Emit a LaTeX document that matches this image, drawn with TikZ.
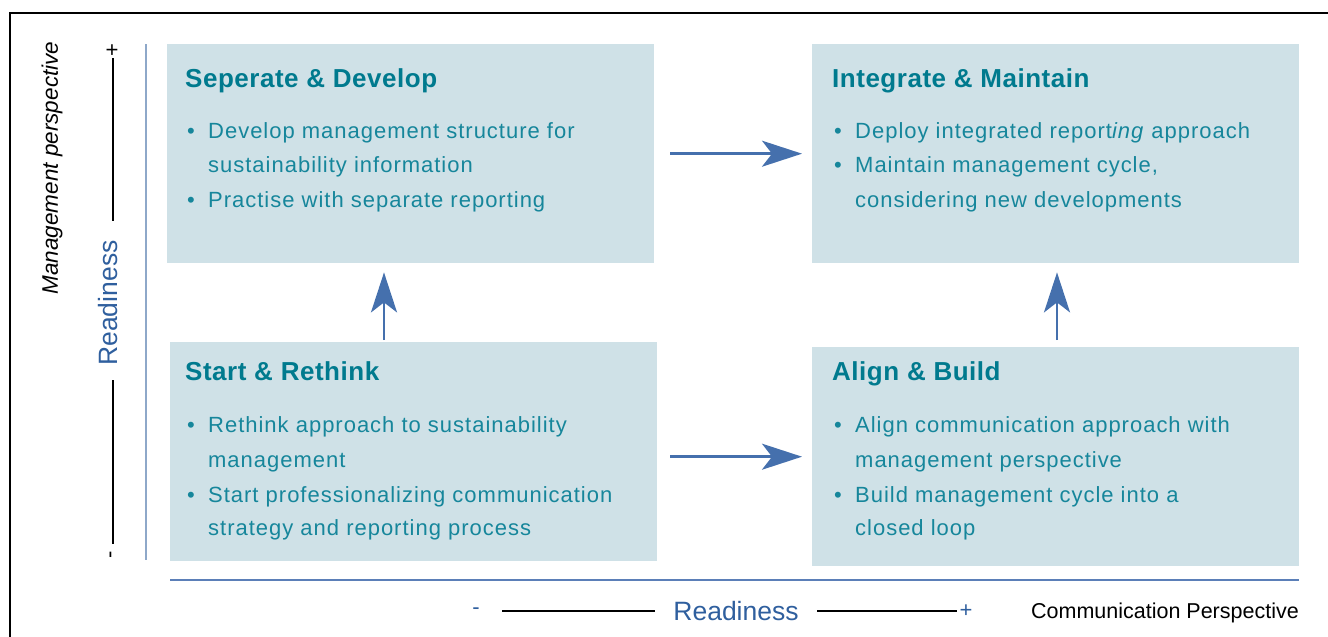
\documentclass[tikz,border=0pt]{standalone}
\usepackage{fontspec}
\setmainfont{Liberation Sans}
\newfontfamily\bodyfont[LetterSpace=4.5]{Liberation Sans}
\newfontfamily\titlefont[LetterSpace=2]{Liberation Sans}
\usetikzlibrary{arrows.meta}
\definecolor{boxfill}{HTML}{CFE1E7}
\definecolor{tealtxt}{HTML}{16869B}
\definecolor{titlecol}{HTML}{007A8E}
\definecolor{arrowblue}{HTML}{4570AD}
\definecolor{axisblue}{HTML}{2F5F9E}
\definecolor{axisline}{HTML}{8EA8C9}
\definecolor{hlinecol}{HTML}{5B7FB8}
\newcommand{\bul}{\makebox[21pt][l]{\textbullet}}
\begin{document}
\begin{tikzpicture}[x=1pt,y=-1pt,
  box/.style={fill=boxfill, draw=none, minimum width=487pt, minimum height=219pt, anchor=north west, inner sep=0pt},
  ttl/.style={anchor=base west, inner sep=0pt, font=\titlefont\fontsize{26}{26}\selectfont\bfseries, text=titlecol},
  ln/.style={anchor=base west, inner sep=0pt, font=\bodyfont\fontsize{22}{22}\selectfont, text=tealtxt},
  arr/.style={draw=arrowblue, line width=2.5pt, -{Stealth[length=40pt,width=26pt,inset=10pt]}},
  axtxt/.style={inner sep=0pt, text=axisblue, font=\fontsize{26.5}{26.5}\selectfont},
  axpm/.style={inner sep=0pt, text=axisblue, font=\fontsize{22}{22}\selectfont},
  vpm/.style={inner sep=0pt, text=black, font=\fontsize{22}{22}\selectfont, rotate=90},
  blk/.style={draw=black, line width=1.2pt}
]
\useasboundingbox (0,0) rectangle (1328,637);
% frame
\draw[line width=2pt] (10,637) -- (10,13) -- (1328,13);

% boxes
\node[box] (sd) at (167,44) {};
\node[box] (im) at (812,44) {};
\node[box] (sr) at (170,342) {};
\node[box] (ab) at (812,347) {};

% Seperate & Develop
\node[ttl] (sdt) at (185,87) {Seperate \& Develop};
\node[ln] (sd1) at (187,138) {\bul Develop management structure for};
\node[ln] (sd2) at (208,172) {sustainability information};
\node[ln] (sd3) at (187,207) {\bul Practise with separate reporting};

% Integrate & Maintain
\node[ttl] (imt) at (832,87) {Integrate \& Maintain};
\node[ln] (im1) at (834,138) {\bul Deploy integrated report\textit{ing} approach};
\node[ln] (im2) at (834,172) {\bul Maintain management cycle,};
\node[ln] (im3) at (855,207) {considering new developments};

% Start & Rethink
\node[ttl] (srt) at (185,380) {Start \& Rethink};
\node[ln] (sr1) at (187,432) {\bul Rethink approach to sustainability};
\node[ln] (sr2) at (208,467) {management};
\node[ln] (sr3) at (187,502) {\bul Start professionalizing communication};
\node[ln] (sr4) at (208,535) {strategy and reporting process};

% Align & Build
\node[ttl] (abt) at (832,380) {Align \& Build};
\node[ln] (ab1) at (834,432) {\bul Align communication approach with};
\node[ln] (ab2) at (855,467) {management perspective};
\node[ln] (ab3) at (834,502) {\bul Build management cycle into a};
\node[ln] (ab4) at (855,535) {closed loop};

% arrows
\draw[arr, shorten <=16pt, shorten >=10pt] (sd.east) -- (im.west);
\draw[arr, shorten <=13pt, shorten >=10pt] (sr.east |- ab.west) -- (ab.west);
\draw[arr, shorten <=2pt, shorten >=9pt] ([xshift=214pt]sr.north west) -- ([xshift=217pt]sd.south west);
\draw[arr, shorten <=7pt, shorten >=9pt] ([xshift=245pt]ab.north west) -- ([xshift=245pt]im.south west);

% vertical axis
\draw[axisline, line width=2pt] (146,44) -- (146,560);
\node[rotate=90, inner sep=0pt, font=\fontsize{22.5}{22.5}\selectfont\itshape] (mp) at (52,168) {Management perspective};
\node[vpm] (vplus) at (113,50) {+};
\node[vpm] (vminus) at (113,555) {-};
\node[axtxt, rotate=90] (vread) at (108,303) {Readiness};
\draw[blk, shorten <=8pt, shorten >=82pt] (vplus.center) -- (vplus.center |- vread.center);
\draw[blk, shorten <=77pt, shorten >=11pt] (vminus.center |- vread.center) -- (vminus.center);

% horizontal axis
\draw[hlinecol, line width=1.5pt] (170,580) -- (1299,580);
\node[axpm] (hminus) at (476,611) {-};
\node[axtxt] (hread) at (736,611) {Readiness};
\node[axpm] (hplus) at (966,611) {+};
\draw[blk, shorten <=26pt, shorten >=81pt] (hminus.center) -- (hread.center);
\draw[blk, shorten <=81pt, shorten >=9pt] (hread.center) -- (hplus.center);
\node[inner sep=0pt, anchor=base east, font=\fontsize{21.5}{21.5}\selectfont] (cp) at (1299,618) {Communication Perspective};
\end{tikzpicture}
\end{document}
